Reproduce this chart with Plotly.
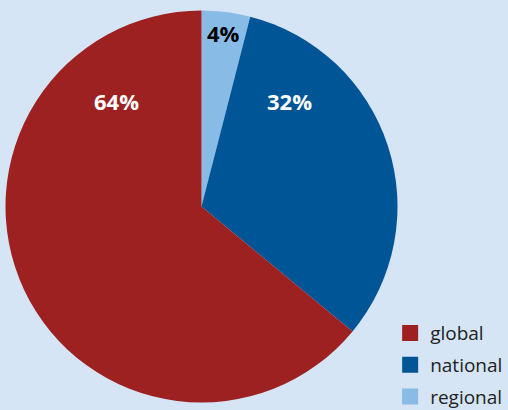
import plotly.graph_objects as go

labels = ["global", "national", "regional"]
values = [64, 32, 4]
colors = ["#9e2121", "#005596", "#88bbe6"]
label_colors = ["white", "white", "black"]
# label anchor positions (paper fractions)
label_x = [0.2303, 0.5689, 0.4409]
label_y = [0.7537, 0.7537, 0.9195]

BG = "#d5e5f6"

fig = go.Figure()
# slices drawn clockwise from 12 o'clock: regional, national, global
fig.add_trace(go.Pie(
    labels=labels[::-1], values=values[::-1], sort=False, direction="clockwise",
    rotation=0,
    marker=dict(colors=colors[::-1], line=dict(width=0)),
    textinfo="none", hoverinfo="label+percent", showlegend=False,
    domain=dict(x=[5.5/508, 397.5/508], y=[7/410, 400/410]),
))

for i, (lab, col) in enumerate(zip(labels, colors)):
    fig.add_trace(go.Scatter(
        x=[None], y=[None], mode="markers", name=lab,
        marker=dict(symbol="square", size=16, color=col),
        legendgroup=lab, showlegend=True,
    ))

for v, c, x, y in zip(values, label_colors, label_x, label_y):
    fig.add_annotation(
        text=f"<b>{v}%</b>", x=x, y=y, xref="paper", yref="paper",
        showarrow=False, xanchor="center", yanchor="middle",
        font=dict(family="Open Sans", size=22, color=c),
    )

fig.update_layout(
    width=508, height=410,
    margin=dict(l=0, r=0, t=0, b=0, autoexpand=False),
    paper_bgcolor=BG, plot_bgcolor=BG,
    xaxis=dict(visible=False), yaxis=dict(visible=False),
    legend=dict(
        x=0.768, y=-0.015, xanchor="left", yanchor="bottom",
        bgcolor="rgba(0,0,0,0)", tracegroupgap=4,
        font=dict(family="Open Sans", size=19, color="#222222"),
        itemwidth=30,
    ),
)

fig.write_html("out.html")
